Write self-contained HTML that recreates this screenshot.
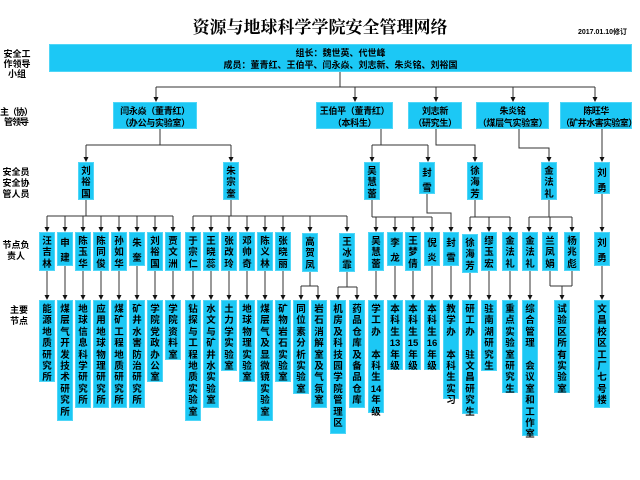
<!DOCTYPE html>
<html><head><meta charset="utf-8">
<style>
body{margin:0;width:640px;height:480px;background:#fff;position:relative;overflow:hidden;font-family:"Liberation Sans","Noto Sans CJK SC",sans-serif;}
.b{position:absolute;background:#1cc8f5;border:1px solid #4fd6f7;box-sizing:border-box;color:#000;font-weight:bold;font-size:9.5px;text-align:center;white-space:nowrap;}
.v{width:16px;line-height:11.4px;padding-top:3px;}
.v2{width:16px;line-height:15px;padding-top:3px;}
.h{line-height:12px;padding-top:2px;font-size:9px;letter-spacing:-0.3px;}
.l{position:absolute;font-weight:bold;font-size:9px;line-height:10px;text-align:center;color:#000;white-space:nowrap;}
svg{position:absolute;left:0;top:0;}
</style></head><body>
<div style="position:absolute;left:150px;top:15px;width:340px;text-align:center;font-family:'Noto Serif CJK SC',serif;font-weight:bold;font-size:17px;line-height:22px;">资源与地球科学学院安全管理网络</div>
<div style="position:absolute;left:578px;top:27px;font-size:7px;font-weight:bold;white-space:nowrap;">2017.01.10修订</div>

<div class="l" style="left:2px;top:49px;width:30px;">安全工<br>作领导<br>小组</div>
<div class="l" style="left:0px;top:107px;width:32px;letter-spacing:-1px;">主（协）<br>管领导</div>
<div class="l" style="left:0px;top:167px;width:32px;line-height:11px;">安全员<br>安全协<br>管人员</div>
<div class="l" style="left:0px;top:240px;width:32px;line-height:11px;">节点负<br>责人</div>
<div class="l" style="left:4px;top:305px;width:30px;line-height:11px;">主要<br>节点</div>

<div class="b" style="left:49px;top:44px;width:583px;height:28px;line-height:12px;padding-top:2px;font-size:9px;">组长：魏世英、代世峰<br>成员：董青红、王伯平、闫永焱、刘志新、朱炎铭、刘裕国</div>

<div class="b h" style="left:113px;top:102px;width:84px;height:27px;">闫永焱（董青红）<br>（办公与实验室）</div>
<div class="b h" style="left:316px;top:102px;width:77px;height:27px;">王伯平（董青红）<br>（本科生）</div>
<div class="b h" style="left:408px;top:102px;width:54px;height:27px;">刘志新<br>（研究生）</div>
<div class="b h" style="left:476px;top:102px;width:73px;height:27px;">朱炎铭<br>（煤层气实验室）</div>
<div class="b h" style="left:560px;top:102px;width:72px;height:27px;letter-spacing:-0.6px;">陈旺华<br>（矿井水害实验室）</div>

<svg width="640" height="480">
<g stroke="#333" stroke-width="1" fill="none">
<path d="M340 72V87M156 87H595M156 87V97M355 87V97M436 87V97M513 87V97M595 87V97"/>
<path d="M160 129V145M86 145H231M86 145V157M231 145V157"/>
<path d="M381 129V145M372 145H428M372 145V157M428 145V157"/>
<path d="M436 129V145H475V157"/>
<path d="M519 129V148H549V157"/>
<path d="M602 129V157"/>
<path d="M86 200V216M47 216H173M47 216V227M65 216V227M83 216V227M101 216V227M119 216V227M137 216V227M155 216V227M173 216V227"/>
<path d="M231 200V216M193 216H347M193 216V227M211 216V227M229 216V227M247 216V227M265 216V227M283 216V227M310 216V227M347 216V227"/>
<path d="M372 200V217M372 217H432M376 217V227M395 217V227M413 217V227M432 217V227"/>
<path d="M427 194V213H451V227"/>
<path d="M475 200V217M470 217H510M470 217V227M489 217V227M510 217V227"/>
<path d="M549 200V217M529 217H572M529 217V227M550 217V227M572 217V227"/>
<path d="M602 194V227"/>
<path d="M47 271V295M65 266V295M83 271V295M101 271V295M119 271V295M137 266V295M155 271V295M173 271V295M193 271V295M211 271V295M229 271V295M247 271V295M265 271V295M283 271V295"/>
<path d="M310 272V286M301 286H318M301 286V295M318 286V295M347 272V287M338 287H357M338 287V295M357 287V295"/>
<path d="M376 271V295M395 266V295M413 271V295M432 266V295M451 266V295M470 273V295M489 271V295M510 271V295M530 271V295M602 266V295"/>
<path d="M550 271V286M572 271V286M550 286H572M562 286V295"/>
</g>
<g fill="#111">
<path d="M153.5 97h5l-2.5 5zM352.5 97h5l-2.5 5zM433.5 97h5l-2.5 5zM510.5 97h5l-2.5 5zM592.5 97h5l-2.5 5z"/>
<path d="M83.5 157h5l-2.5 5zM228.5 157h5l-2.5 5zM369.5 157h5l-2.5 5zM425.5 157h5l-2.5 5zM472.5 157h5l-2.5 5zM546.5 157h5l-2.5 5zM599.5 157h5l-2.5 5z"/>
<path d="M44.5 227h5l-2.5 5zM62.5 227h5l-2.5 5zM80.5 227h5l-2.5 5zM98.5 227h5l-2.5 5zM116.5 227h5l-2.5 5zM134.5 227h5l-2.5 5zM152.5 227h5l-2.5 5zM170.5 227h5l-2.5 5zM190.5 227h5l-2.5 5zM208.5 227h5l-2.5 5zM226.5 227h5l-2.5 5zM244.5 227h5l-2.5 5zM262.5 227h5l-2.5 5zM280.5 227h5l-2.5 5zM307.5 227h5l-2.5 5zM344.5 227h5l-2.5 5zM373.5 227h5l-2.5 5zM392.5 227h5l-2.5 5zM410.5 227h5l-2.5 5zM429.5 227h5l-2.5 5zM448.5 227h5l-2.5 5zM467.5 227h5l-2.5 5zM486.5 227h5l-2.5 5zM507.5 227h5l-2.5 5zM526.5 227h5l-2.5 5zM547.5 227h5l-2.5 5zM569.5 227h5l-2.5 5zM599.5 227h5l-2.5 5z"/>
<path d="M44.5 295h5l-2.5 5zM62.5 295h5l-2.5 5zM80.5 295h5l-2.5 5zM98.5 295h5l-2.5 5zM116.5 295h5l-2.5 5zM134.5 295h5l-2.5 5zM152.5 295h5l-2.5 5zM170.5 295h5l-2.5 5zM190.5 295h5l-2.5 5zM208.5 295h5l-2.5 5zM226.5 295h5l-2.5 5zM244.5 295h5l-2.5 5zM262.5 295h5l-2.5 5zM280.5 295h5l-2.5 5zM298.5 295h5l-2.5 5zM315.5 295h5l-2.5 5zM335.5 295h5l-2.5 5zM354.5 295h5l-2.5 5zM373.5 295h5l-2.5 5zM392.5 295h5l-2.5 5zM410.5 295h5l-2.5 5zM429.5 295h5l-2.5 5zM448.5 295h5l-2.5 5zM467.5 295h5l-2.5 5zM486.5 295h5l-2.5 5zM507.5 295h5l-2.5 5zM527.5 295h5l-2.5 5zM559.5 295h5l-2.5 5zM599.5 295h5l-2.5 5z"/>
</g>
</svg>

<!-- level 3 -->
<div class="b v" style="left:78px;top:162px;height:38px;">刘<br>裕<br>国</div>
<div class="b v" style="left:223px;top:162px;height:38px;">朱<br>宗<br>奎</div>
<div class="b v" style="left:364px;top:162px;height:38px;">吴<br>慧<br>蕾</div>
<div class="b v2" style="left:419px;top:162px;height:32px;">封<br>雪</div>
<div class="b v" style="left:467px;top:162px;height:38px;">徐<br>海<br>芳</div>
<div class="b v" style="left:541px;top:162px;height:38px;">金<br>法<br>礼</div>
<div class="b v2" style="left:594px;top:162px;height:32px;">刘<br>勇</div>

<!-- level 4 -->
<div class="b v" style="left:39px;top:232px;height:39px;">汪<br>吉<br>林</div>
<div class="b v2" style="left:57px;top:232px;height:34px;">申<br>建</div>
<div class="b v" style="left:75px;top:232px;height:39px;">陈<br>玉<br>华</div>
<div class="b v" style="left:93px;top:232px;height:39px;">陈<br>同<br>俊</div>
<div class="b v" style="left:111px;top:232px;height:39px;">孙<br>如<br>华</div>
<div class="b v2" style="left:129px;top:232px;height:34px;">朱<br>奎</div>
<div class="b v" style="left:147px;top:232px;height:39px;">刘<br>裕<br>国</div>
<div class="b v" style="left:165px;top:232px;height:39px;">贾<br>文<br>洲</div>
<div class="b v" style="left:185px;top:232px;height:39px;">于<br>宗<br>仁</div>
<div class="b v" style="left:203px;top:232px;height:39px;">王<br>晓<br>蕊</div>
<div class="b v" style="left:221px;top:232px;height:39px;">张<br>改<br>玲</div>
<div class="b v" style="left:239px;top:232px;height:39px;">邓<br>帅<br>奇</div>
<div class="b v" style="left:257px;top:232px;height:39px;">陈<br>义<br>林</div>
<div class="b v" style="left:275px;top:232px;height:39px;">张<br>晓<br>丽</div>
<div class="b v" style="left:302px;top:233px;height:39px;">高<br>贺<br>凤</div>
<div class="b v" style="left:339px;top:233px;height:39px;">王<br>冰<br>霏</div>
<div class="b v" style="left:368px;top:232px;height:39px;">吴<br>慧<br>蕾</div>
<div class="b v2" style="left:387px;top:232px;height:34px;">李<br>龙</div>
<div class="b v" style="left:405px;top:232px;height:39px;">王<br>梦<br>倩</div>
<div class="b v2" style="left:424px;top:232px;height:34px;">倪<br>炎</div>
<div class="b v2" style="left:443px;top:232px;height:34px;">封<br>雪</div>
<div class="b v" style="left:462px;top:234px;height:39px;">徐<br>海<br>芳</div>
<div class="b v" style="left:481px;top:232px;height:39px;">缪<br>玉<br>宏</div>
<div class="b v" style="left:502px;top:232px;height:39px;">金<br>法<br>礼</div>
<div class="b v" style="left:522px;top:232px;height:39px;">金<br>法<br>礼</div>
<div class="b v" style="left:542px;top:232px;height:39px;">兰<br>凤<br>娟</div>
<div class="b v" style="left:564px;top:232px;height:39px;">杨<br>兆<br>彪</div>
<div class="b v2" style="left:594px;top:232px;height:34px;">刘<br>勇</div>

<!-- level 5 -->
<div class="b v" style="left:39px;top:300px;height:82px;">能<br>源<br>地<br>质<br>研<br>究<br>所</div>
<div class="b v" style="left:57px;top:300px;height:121px;">煤<br>层<br>气<br>开<br>发<br>技<br>术<br>研<br>究<br>所</div>
<div class="b v" style="left:75px;top:300px;height:108px;">地<br>球<br>信<br>息<br>科<br>学<br>研<br>究<br>所</div>
<div class="b v" style="left:93px;top:300px;height:108px;">应<br>用<br>地<br>球<br>物<br>理<br>研<br>究<br>所</div>
<div class="b v" style="left:111px;top:300px;height:108px;">煤<br>矿<br>工<br>程<br>地<br>质<br>研<br>究<br>所</div>
<div class="b v" style="left:129px;top:300px;height:108px;">矿<br>井<br>水<br>害<br>防<br>治<br>研<br>究<br>所</div>
<div class="b v" style="left:147px;top:300px;height:82px;">学<br>院<br>党<br>政<br>办<br>公<br>室</div>
<div class="b v" style="left:165px;top:300px;height:60px;">学<br>院<br>资<br>料<br>室</div>
<div class="b v" style="left:185px;top:300px;height:121px;">钻<br>探<br>与<br>工<br>程<br>地<br>质<br>实<br>验<br>室</div>
<div class="b v" style="left:203px;top:300px;height:108px;">水<br>文<br>与<br>矿<br>井<br>水<br>实<br>验<br>室</div>
<div class="b v" style="left:221px;top:300px;height:71px;">土<br>力<br>学<br>实<br>验<br>室</div>
<div class="b v" style="left:239px;top:300px;height:82px;">地<br>球<br>物<br>理<br>实<br>验<br>室</div>
<div class="b v" style="left:257px;top:300px;height:121px;">煤<br>层<br>气<br>及<br>显<br>微<br>镜<br>实<br>验<br>室</div>
<div class="b v" style="left:275px;top:300px;height:82px;">矿<br>物<br>岩<br>石<br>实<br>验<br>室</div>
<div class="b v" style="left:293px;top:300px;height:94px;">同<br>位<br>素<br>分<br>析<br>实<br>验<br>室</div>
<div class="b v" style="left:311px;top:300px;height:108px;">岩<br>石<br>消<br>解<br>室<br>及<br>气<br>氛<br>室</div>
<div class="b v" style="left:330px;top:300px;height:134px;">机<br>房<br>及<br>科<br>技<br>园<br>学<br>院<br>管<br>理<br>区</div>
<div class="b v" style="left:349px;top:300px;height:108px;">药<br>品<br>仓<br>库<br>及<br>备<br>品<br>仓<br>库</div>
<div class="b v" style="left:368px;top:300px;height:113px;">学<br>工<br>办<br><span style="font-size:4px;line-height:4px;">&nbsp;</span><br>本<br>科<br>生<br>14<br>年<br>级</div>
<div class="b v" style="left:387px;top:300px;height:70px;">本<br>科<br>生<br>13<br>年<br>级</div>
<div class="b v" style="left:405px;top:300px;height:70px;">本<br>科<br>生<br>15<br>年<br>级</div>
<div class="b v" style="left:424px;top:300px;height:70px;">本<br>科<br>生<br>16<br>年<br>级</div>
<div class="b v" style="left:443px;top:300px;height:99px;">教<br>学<br>办<br><span style="font-size:4px;line-height:4px;">&nbsp;</span><br>本<br>科<br>生<br>实<br>习</div>
<div class="b v" style="left:462px;top:300px;height:114px;">研<br>工<br>办<br><span style="font-size:4px;line-height:4px;">&nbsp;</span><br>驻<br>文<br>昌<br>研<br>究<br>生</div>
<div class="b v" style="left:481px;top:300px;height:71px;">驻<br>南<br>湖<br>研<br>究<br>生</div>
<div class="b v" style="left:502px;top:300px;height:93px;">重<br>点<br>实<br>验<br>室<br>研<br>究<br>生</div>
<div class="b v" style="left:522px;top:300px;height:136px;">综<br>合<br>管<br>理<br><span style="font-size:4px;line-height:4px;">&nbsp;</span><br>会<br>议<br>室<br>和<br>工<br>作<br>室</div>
<div class="b v" style="left:554px;top:300px;height:93px;">试<br>验<br>区<br>所<br>有<br>实<br>验<br>室</div>
<div class="b v" style="left:594px;top:300px;height:108px;">文<br>昌<br>校<br>区<br>工<br>厂<br>七<br>号<br>楼</div>
</body></html>
